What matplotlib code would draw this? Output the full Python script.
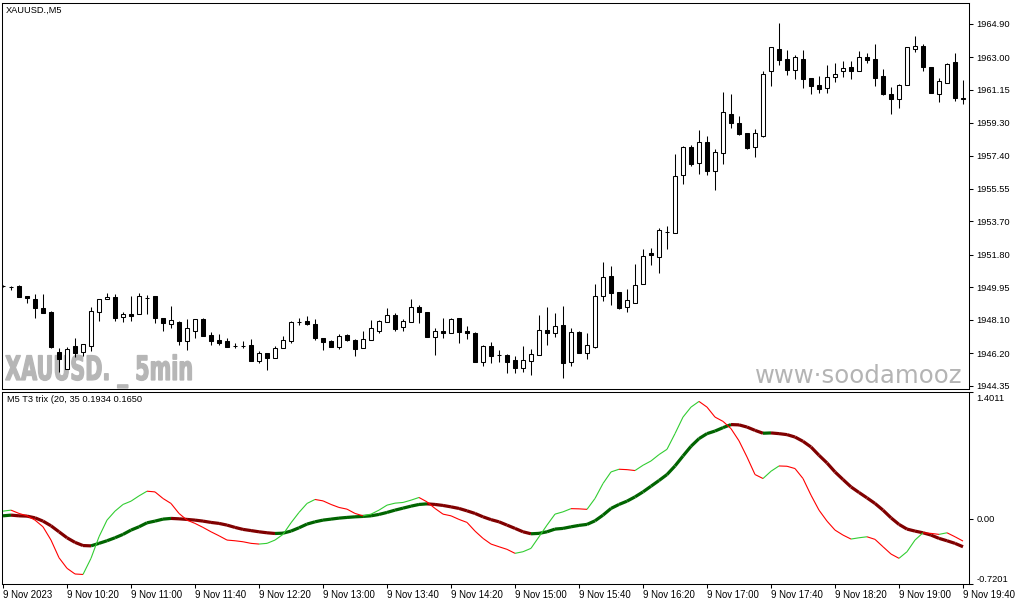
import numpy as np
import matplotlib
matplotlib.use("Agg")
import matplotlib.pyplot as plt
from matplotlib.collections import LineCollection
from matplotlib.textpath import TextPath
from matplotlib.patches import PathPatch
from matplotlib.transforms import Affine2D, ScaledTranslation
from matplotlib.font_manager import FontProperties

plt.rcParams['font.family'] = ['Liberation Sans', 'DejaVu Sans']

# ---------------- data ----------------
symbol_title = "XAUUSD.,M5"
indicator_title = "M5 T3 trix (20, 35 0.1934 0.1650"
watermark_left = "XAUUSD. _ 5min"
watermark_right = "www\u00b7soodamooz"

time_labels = ["9 Nov 2023", "9 Nov 10:20", "9 Nov 11:00", "9 Nov 11:40", "9 Nov 12:20",
               "9 Nov 13:00", "9 Nov 13:40", "9 Nov 14:20", "9 Nov 15:00", "9 Nov 15:40",
               "9 Nov 16:20", "9 Nov 17:00", "9 Nov 17:40", "9 Nov 18:20", "9 Nov 19:00",
               "9 Nov 19:40"]
label_every = 8  # bars between time labels (40 min of 5-min bars)

price_ticks = [1964.90, 1963.00, 1961.15, 1959.30, 1957.40, 1955.55, 1953.70,
               1951.80, 1949.95, 1948.10, 1946.20, 1944.35]
ind_ticks = [1.4011, 0.00, -0.7201]
ind_tick_labels = ["1.4011", "0.00", "-0.7201"]

opens = [1950.01, 1949.98, 1950.01, 1949.45, 1949.26, 1948.75, 1948.56, 1946.28, 1945.29, 1946.61,
         1946.27, 1946.61, 1948.56, 1949.26, 1949.37, 1948.26, 1948.41, 1948.41, 1949.32, 1949.45,
         1948.18, 1947.86, 1947.99, 1946.89, 1947.48, 1948.14, 1947.23, 1946.95, 1946.91, 1946.61,
         1946.61, 1946.66, 1945.77, 1946.19, 1945.91, 1946.48, 1946.91, 1947.99, 1948.03, 1947.86,
         1947.05, 1946.91, 1946.57, 1947.23, 1946.95, 1946.48, 1946.95, 1947.48, 1947.99, 1948.37,
         1947.67, 1947.95, 1948.81, 1948.52, 1947.14, 1947.46, 1947.33, 1948.18, 1947.46, 1947.36,
         1945.72, 1946.61, 1946.10, 1946.10, 1945.81, 1945.34, 1945.77, 1946.10, 1947.52, 1947.33,
         1947.80, 1945.72, 1947.42, 1946.23, 1946.57, 1949.42, 1950.59, 1949.68, 1948.81, 1949.07,
         1950.11, 1951.88, 1951.68, 1953.10, 1953.01, 1956.30, 1957.91, 1956.98, 1958.18, 1956.57,
         1957.55, 1959.77, 1959.26, 1958.69, 1957.89, 1958.55, 1962.20, 1963.47, 1962.90, 1962.31,
         1962.91, 1961.81, 1961.42, 1961.25, 1961.87, 1962.23, 1962.46, 1962.21, 1963.01, 1962.89,
         1961.94, 1960.92, 1960.62, 1961.42, 1963.46, 1963.65, 1962.44, 1960.90, 1961.56, 1962.74,
         1960.70]
highs = [1950.08, 1950.04, 1950.07, 1949.45, 1949.55, 1949.55, 1948.59, 1946.50, 1946.54, 1947.05,
         1946.72, 1948.81, 1949.28, 1949.64, 1949.56, 1948.56, 1949.45, 1949.64, 1949.50, 1949.45,
         1948.20, 1948.88, 1948.03, 1948.13, 1948.14, 1948.17, 1947.42, 1947.29, 1947.05, 1946.76,
         1946.91, 1946.99, 1946.34, 1946.21, 1946.61, 1947.19, 1948.05, 1948.18, 1948.31, 1948.13,
         1947.06, 1946.92, 1947.29, 1947.26, 1946.98, 1947.48, 1948.08, 1948.06, 1948.75, 1948.50,
         1948.14, 1949.26, 1948.94, 1948.54, 1947.61, 1948.18, 1948.18, 1948.20, 1947.75, 1947.40,
         1946.64, 1946.82, 1946.38, 1946.13, 1946.04, 1946.61, 1946.42, 1948.37, 1948.84, 1948.50,
         1948.88, 1947.61, 1947.43, 1947.33, 1950.13, 1951.38, 1951.15, 1949.69, 1949.83, 1951.27,
         1952.09, 1952.16, 1953.29, 1953.42, 1957.51, 1957.97, 1958.03, 1958.88, 1958.54, 1957.80,
         1961.03, 1960.92, 1959.66, 1958.71, 1958.93, 1962.23, 1963.59, 1964.97, 1963.42, 1963.14,
         1963.42, 1961.83, 1961.94, 1962.57, 1962.70, 1962.80, 1962.80, 1963.37, 1963.27, 1963.76,
         1962.34, 1961.30, 1961.49, 1963.61, 1964.22, 1963.76, 1962.46, 1961.81, 1962.70, 1963.27,
         1961.72]
lows = [1949.93, 1949.79, 1949.39, 1949.03, 1948.22, 1948.48, 1946.50, 1945.15, 1945.27, 1946.00,
        1946.04, 1946.33, 1948.05, 1949.25, 1948.05, 1947.99, 1948.05, 1948.40, 1948.41, 1947.93,
        1947.48, 1947.61, 1946.66, 1946.38, 1947.05, 1947.18, 1946.66, 1946.66, 1946.53, 1946.48,
        1946.48, 1945.76, 1945.66, 1945.25, 1945.90, 1946.47, 1946.80, 1947.80, 1947.80, 1946.95,
        1946.38, 1946.55, 1946.44, 1946.91, 1946.04, 1946.47, 1946.92, 1947.33, 1947.97, 1947.46,
        1947.46, 1947.94, 1947.93, 1947.12, 1946.10, 1947.05, 1947.32, 1946.80, 1946.99, 1945.70,
        1945.49, 1945.66, 1945.72, 1945.06, 1945.09, 1945.15, 1944.96, 1946.07, 1946.66, 1947.10,
        1944.77, 1945.49, 1946.21, 1945.85, 1946.50, 1949.18, 1948.94, 1948.69, 1948.56, 1949.05,
        1950.10, 1951.21, 1950.77, 1952.13, 1953.00, 1955.79, 1956.85, 1956.38, 1956.34, 1955.47,
        1956.95, 1958.99, 1958.59, 1957.80, 1957.36, 1958.46, 1961.39, 1962.57, 1962.02, 1961.77,
        1961.28, 1960.90, 1961.00, 1961.00, 1961.62, 1961.91, 1961.77, 1962.20, 1962.70, 1961.39,
        1960.89, 1959.77, 1960.11, 1961.41, 1963.33, 1962.25, 1960.98, 1960.48, 1961.55, 1960.52,
        1960.38]
closes = [1950.01, 1949.98, 1949.41, 1949.32, 1948.75, 1948.50, 1946.54, 1945.85, 1946.44, 1946.23,
          1946.72, 1948.60, 1949.26, 1949.41, 1948.22, 1948.41, 1948.31, 1949.45, 1949.32, 1948.18,
          1947.93, 1948.08, 1946.91, 1947.61, 1948.13, 1947.19, 1946.91, 1946.80, 1946.54, 1946.61,
          1946.61, 1945.77, 1946.19, 1945.91, 1946.48, 1946.95, 1947.99, 1947.99, 1947.86, 1947.05,
          1946.85, 1946.57, 1947.18, 1946.95, 1946.42, 1946.99, 1947.61, 1948.03, 1948.35, 1947.58,
          1948.03, 1948.81, 1948.56, 1947.14, 1947.46, 1947.33, 1948.14, 1947.42, 1947.33, 1945.72,
          1946.61, 1946.06, 1946.10, 1945.72, 1945.34, 1945.81, 1946.15, 1947.52, 1947.33, 1947.75,
          1945.66, 1947.42, 1946.23, 1946.66, 1949.45, 1950.53, 1949.64, 1948.74, 1949.20, 1950.06,
          1951.70, 1951.75, 1953.20, 1953.10, 1956.26, 1957.89, 1956.95, 1958.18, 1956.57, 1957.61,
          1959.88, 1959.26, 1958.67, 1957.87, 1958.69, 1962.06, 1963.58, 1962.87, 1962.31, 1963.01,
          1961.80, 1961.36, 1961.23, 1961.87, 1962.04, 1962.38, 1962.21, 1963.04, 1962.85, 1961.85,
          1960.91, 1960.62, 1961.42, 1963.58, 1963.65, 1962.47, 1961.00, 1961.66, 1962.63, 1960.71,
          1960.62]

trix_fast = [0.0849, 0.0959, 0.0595, 0.0331, -0.0143, -0.0882, -0.2347, -0.4298, -0.5466, -0.6094,
             -0.6149, -0.4364, -0.1983, -0.0143, 0.0849, 0.1587, 0.1950, 0.2534, 0.3052, 0.2975,
             0.2248, 0.1697, 0.0595, -0.0143, -0.0507, -0.0948, -0.1433, -0.1873, -0.2347, -0.2424,
             -0.2534, -0.2711, -0.2788, -0.2711, -0.2347, -0.1719, -0.0441, 0.0705, 0.1697, 0.2138,
             0.1984, 0.1587, 0.1256, 0.1069, 0.0595, 0.0331, 0.0518, 0.0959, 0.1510, 0.1730,
             0.1807, 0.2061, 0.2358, 0.1873, 0.1146, 0.0518, 0.0331, -0.0066, -0.0397, -0.1355,
             -0.2160, -0.2788, -0.3085, -0.3372, -0.3813, -0.3636, -0.3262, -0.1983, -0.0694, 0.0518,
             0.0771, 0.1124, 0.1102, 0.1047, 0.2248, 0.3901, 0.5179, 0.5477, 0.5433, 0.5333,
             0.5917, 0.6391, 0.7097, 0.7681, 0.9411, 1.1240, 1.2342, 1.2970, 1.2342, 1.1240,
             1.0766, 0.9962, 0.8617, 0.6832, 0.4893, 0.4452, 0.5256, 0.5840, 0.5807, 0.5554,
             0.4452, 0.2612, 0.0959, -0.0253, -0.1245, -0.1796, -0.2237, -0.2094, -0.1983, -0.2270,
             -0.3085, -0.3890, -0.4364, -0.3636, -0.2347, -0.1543, -0.1609, -0.1719, -0.1543, -0.1983,
             -0.2457]
trix_slow = [0.0331, 0.0408, 0.0331, 0.0298, 0.0110, -0.0253, -0.0771, -0.1433, -0.2094, -0.2601,
             -0.2953, -0.2986, -0.2711, -0.2424, -0.2094, -0.1719, -0.1245, -0.0882, -0.0441, -0.0253,
             -0.0033, 0.0044, 0.0000, -0.0066, -0.0143, -0.0253, -0.0397, -0.0507, -0.0694, -0.0948,
             -0.1168, -0.1300, -0.1433, -0.1543, -0.1620, -0.1587, -0.1355, -0.0992, -0.0584, -0.0331,
             -0.0143, -0.0033, 0.0077, 0.0154, 0.0220, 0.0264, 0.0331, 0.0485, 0.0705, 0.0959,
             0.1179, 0.1399, 0.1587, 0.1653, 0.1587, 0.1477, 0.1322, 0.1146, 0.0882, 0.0595,
             0.0220, -0.0088, -0.0331, -0.0694, -0.1058, -0.1433, -0.1653, -0.1609, -0.1433, -0.1135,
             -0.1058, -0.0882, -0.0727, -0.0617, -0.0220, 0.0408, 0.1146, 0.1587, 0.1950, 0.2424,
             0.2975, 0.3603, 0.4231, 0.4893, 0.5840, 0.6942, 0.8011, 0.8859, 0.9411, 0.9697,
             1.0072, 1.0413, 1.0380, 1.0138, 0.9774, 0.9455, 0.9488, 0.9411, 0.9301, 0.9036,
             0.8562, 0.7934, 0.7019, 0.6171, 0.5179, 0.4342, 0.3526, 0.2909, 0.2314, 0.1697,
             0.0959, 0.0110, -0.0617, -0.1135, -0.1355, -0.1543, -0.1796, -0.2160, -0.2424, -0.2711,
             -0.3085]

# ---------------- layout ----------------
W, H = 1015, 605
fig = plt.figure(figsize=(W / 100, H / 100), dpi=100)
fig.patch.set_facecolor('white')


def rect(l, t, r, b):
    return [l / W, 1 - b / H, (r - l) / W, (b - t) / H]


ax = fig.add_axes(rect(2, 3, 969, 389))
axi = fig.add_axes(rect(2, 392, 969, 584))

n = len(opens)
x = np.arange(n)
o = np.array(opens); h = np.array(highs); l = np.array(lows); c = np.array(closes)

LW = 0.75
FS = 6.7
for a in (ax, axi):
    a.set_xlim(-0.125, 120.75)
    for s in a.spines.values():
        s.set_linewidth(LW)
        s.set_color('black')
    a.yaxis.tick_right()
    a.tick_params(axis='y', direction='out', length=3, width=LW, pad=2.5,
                  labelsize=FS, colors='black', left=False, labelleft=False)

# ---------------- candles ----------------
ax.set_ylim(1944.16, 1966.09)
ax.vlines(x, l, h, color='black', linewidth=LW, zorder=2)
bull = c >= o
body_bottom = np.minimum(o, c)
body_height = np.abs(c - o)
ax.bar(x, body_height, bottom=body_bottom, width=0.5,
       color=np.where(bull, 'white', 'black'), edgecolor='black', linewidth=LW, zorder=3)
ax.set_xticks([])
ax.set_yticks(price_ticks)
ax.set_yticklabels([f"{v:.2f}" for v in price_ticks])

# watermarks
fp = FontProperties(family='DejaVu Sans', weight='bold')
tp = TextPath((0, 0), watermark_left, size=100, prop=fp)
ext = tp.get_extents()
cap_h = TextPath((0, 0), "X", size=100, prop=fp).get_extents().height
sx = 186 / ext.width
sy = 24.5 / cap_h
tr = Affine2D().translate(-ext.x0, 0).scale(sx, sy).translate(5.5, H - 380)
wm = PathPatch(tp, transform=tr, facecolor='#b6b6b6', edgecolor='#b6b6b6',
               linewidth=0.9, zorder=0.5)
ax.add_artist(wm)

ax.text((755 - 2) / 967, (389 - 382.7) / 386, watermark_right, transform=ax.transAxes,
        fontsize=17.6, color='#b4b4b4', va='baseline', ha='left', clip_on=True,
        family='DejaVu Sans', zorder=0.5)

fig.text(6 / W, 1 - 10 / H, symbol_title, fontsize=FS, va='center', ha='left', color='black')

# ---------------- indicator ----------------
axi.set_ylim(-0.7201, 1.4011)


def colored_line(axis, vals, up_col, dn_col, lw, z):
    vals = np.asarray(vals)
    pts = np.column_stack([x, vals])
    segs = np.stack([pts[:-1], pts[1:]], axis=1)
    d = np.diff(vals)
    cols = []
    prev = up_col
    for dv in d:
        if dv > 0:
            prev = up_col
        elif dv < 0:
            prev = dn_col
        cols.append(prev)
    lc = LineCollection(segs, colors=cols, linewidths=lw, zorder=z, capstyle='butt',
                        joinstyle='round')
    axis.add_collection(lc)


colored_line(axi, trix_slow, '#006400', '#800000', 2.3, 3)
colored_line(axi, trix_fast, '#32CD32', '#FF0000', 0.8, 4)

axi.set_yticks(ind_ticks)
axi.set_yticklabels(ind_tick_labels)
ylabs = axi.get_yticklabels()
ylabs[0].set_verticalalignment('top')
ylabs[0].set_transform(ylabs[0].get_transform() + ScaledTranslation(0, -1.5 / 72, fig.dpi_scale_trans))
ylabs[2].set_verticalalignment('bottom')

tick_pos = [i * label_every for i in range(len(time_labels))]
axi.set_xticks(tick_pos)
axi.set_xticklabels(time_labels, ha='left')
axi.tick_params(axis='x', direction='out', length=3, width=LW, pad=1.5, labelsize=6.9,
                colors='black')

fig.text(7 / W, 1 - 400 / H, indicator_title, fontsize=FS, va='center', ha='left', color='black')

fig.savefig("out.png", dpi=100, facecolor='white')
